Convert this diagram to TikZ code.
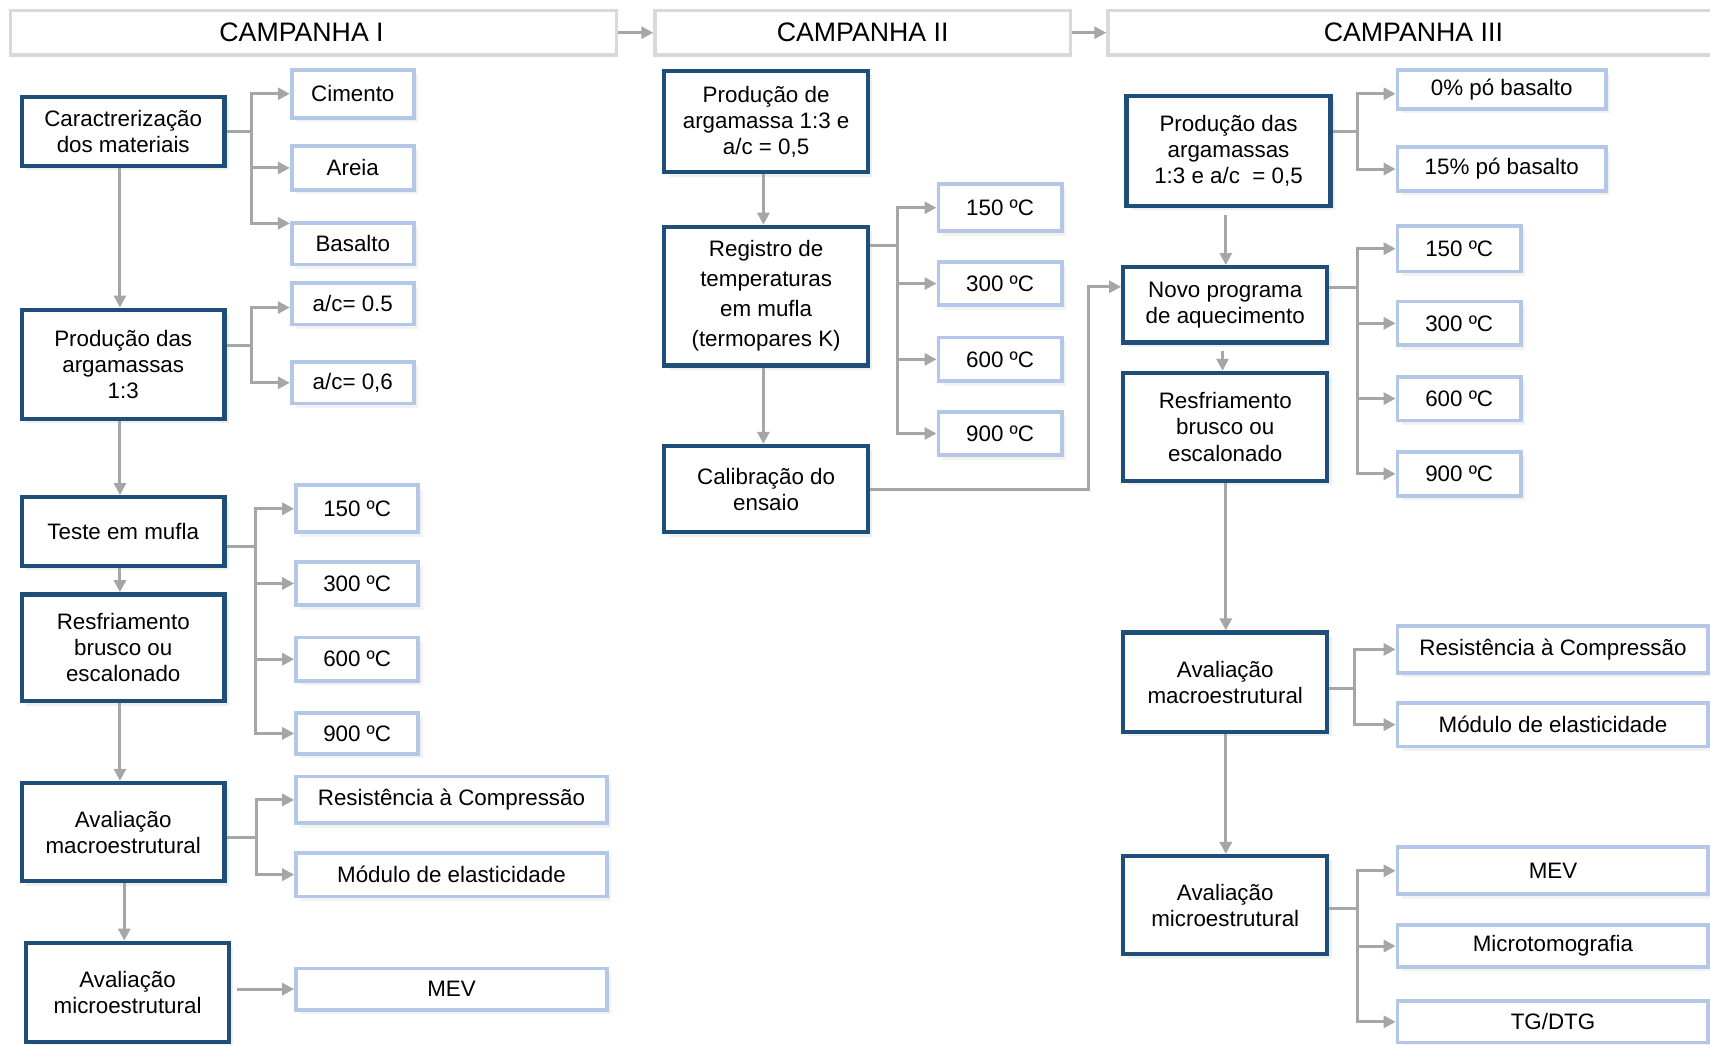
\documentclass[tikz,border=0pt]{standalone}
\usepackage{fontspec}
\setmainfont{Liberation Sans}
\usetikzlibrary{arrows.meta,calc,shadows}
\definecolor{dblue}{HTML}{1F4E79}
\definecolor{lblue}{HTML}{B4C7E7}
\definecolor{cgray}{HTML}{A6A6A6}
\definecolor{hgray}{HTML}{D9D9D9}
\newcommand\txtfnt{\fontsize{20.5}{24}\selectfont}
\newcommand\regfnt{\fontsize{20.5}{27.5}\selectfont}
\newcommand\hdrfnt{\fontsize{24.5}{28}\selectfont}
\begin{document}
\begin{tikzpicture}[x=1pt,y=-1pt,
  dark/.style={draw=dblue, line width=4pt, fill=white, align=center, inner sep=0pt,
    minimum width=186pt, font=\txtfnt,
    drop shadow={opacity=0.12, shadow xshift=4pt, shadow yshift=-4pt}},
  light/.style={draw=lblue, line width=3.5pt, fill=white, align=center, inner sep=0pt,
    minimum width=112pt, font=\txtfnt,
    drop shadow={opacity=0.10, shadow xshift=4pt, shadow yshift=-4pt}},
  hdr/.style={draw=hgray, line width=3pt, fill=white, inner sep=0pt, minimum height=41pt, font=\hdrfnt},
  conn/.style={draw=cgray, line width=2.7pt},
  arr/.style={conn, -{Triangle[length=11pt,width=11pt]}}
]
\useasboundingbox (0,0) rectangle (1568,958);
\fill[white] (0,0) rectangle (1568,958);
\clip (0,0) rectangle (1568,958);

% headers
\node[hdr, minimum width=556pt] (h1) at (287.5,30) {CAMPANHA I\hspace*{22pt}};
\node[hdr, minimum width=381pt] (h2) at (791,30) {CAMPANHA II};
\node[hdr, minimum width=560pt] (h3) at (1296,30) {CAMPANHA III};
\draw[arr] (h1.east) -- (h2.west);
\draw[arr] (h2.east) -- (h3.west);

% ---------- Campanha I ----------
\node[dark, minimum height=63pt] (car) at (113,120.5) {Caractrerização\\dos materiais};
\node[dark, minimum height=100pt] (prod1) at (113,334) {Produção das\\argamassas\\1:3};
\node[dark, minimum height=63pt] (teste) at (113,487.5) {Teste em mufla};
\node[dark, minimum height=98pt] (resf1) at (113,594) {Resfriamento\\brusco ou\\escalonado};
\node[dark, minimum height=90pt] (macro1) at (113,763) {Avaliação\\macroestrutural};
\node[dark, minimum height=91pt] (micro1) at (117,910) {Avaliação\\microestrutural};

\node[light, minimum height=44pt] (cim) at (323.5,86) {Cimento};
\node[light, minimum height=40pt] (are) at (323.5,154) {Areia};
\node[light, minimum height=38pt] (bas) at (323.5,223.5) {Basalto};
\node[light, minimum height=38pt] (ac5) at (323.5,278.5) {a/c= 0.5};
\node[light, minimum height=38pt] (ac6) at (323.5,351) {a/c= 0,6};
\node[light, minimum height=43pt] (ta1) at (327.5,466.5) {150 ºC};
\node[light, minimum height=40pt] (tb1) at (327.5,535) {300 ºC};
\node[light, minimum height=40pt] (tc1) at (327.5,604.5) {600 ºC};
\node[light, minimum height=38pt] (td1) at (327.5,672.5) {900 ºC};
\node[light, minimum width=285pt, minimum height=43pt] (rc1) at (414,733.5) {Resistência à Compressão};
\node[light, minimum width=285pt, minimum height=40pt] (me1) at (414,802) {Módulo de elasticidade};
\node[light, minimum width=285pt, minimum height=38pt] (mev1) at (414,907) {MEV};

\coordinate (j1) at ($(car.east)+(23,0)$);
\draw[conn] (car.east) -- (j1);
\draw[arr] (j1) |- (cim.west);
\draw[arr] (j1) |- (are.west);
\draw[arr] (j1) |- ($(bas.north west)+(0,2)$);

\coordinate (j2) at ($(prod1.east)+(23,-17)$);
\draw[conn] ($(prod1.east)+(0,-17)$) -- (j2);
\draw[arr] (j2) |- ($(ac5.west)+(0,3.5)$);
\draw[arr] (j2) |- (ac6.west);

\coordinate (j3) at ($(teste.east)+(26,13.5)$);
\draw[conn] ($(teste.east)+(0,13.5)$) -- (j3);
\draw[arr] (j3) |- (ta1.west);
\draw[arr] (j3) |- (tb1.west);
\draw[arr] (j3) |- (tc1.west);
\draw[arr] (j3) |- (td1.west);

\coordinate (j4) at ($(macro1.east)+(27,5)$);
\draw[conn] ($(macro1.east)+(0,5)$) -- (j4);
\draw[arr] (j4) |- (rc1.west);
\draw[arr] (j4) |- (me1.west);

\draw[arr] ($(mev1.west)+(-52,0)$) -- (mev1.west);

\draw[arr] ($(car.south)+(-3,0)$) -- ($(prod1.north)+(-3,0)$);
\draw[arr] ($(prod1.south)+(-3,0)$) -- ($(teste.north)+(-3,0)$);
\draw[arr] ($(teste.south)+(-3,0)$) -- ($(resf1.north)+(-3,0)$);
\draw[arr] ($(resf1.south)+(-3,0)$) -- ($(macro1.north)+(-3,0)$);
\draw[arr] ($(macro1.south)+(1,0)$) -- ($(micro1.north)+(-3,0)$);

% ---------- Campanha II ----------
\node[dark, minimum width=187pt, minimum height=93pt] (prod2) at (702.5,111.5) {Produção de\\argamassa 1:3 e\\a/c = 0,5};
\node[dark, minimum width=187pt, minimum height=127pt, font=\regfnt] (reg) at (702.5,271.5) {Registro de\\temperaturas\\em mufla\\(termopares K)};
\node[dark, minimum width=187pt, minimum height=79pt] (cal) at (702.5,448.5) {Calibração do\\ensaio};
\node[light, minimum width=113pt, minimum height=43pt] (ta2) at (917,190.5) {150 ºC};
\node[light, minimum width=113pt, minimum height=40pt] (tb2) at (917,260) {300 ºC};
\node[light, minimum width=113pt, minimum height=40pt] (tc2) at (917,329.5) {600 ºC};
\node[light, minimum width=113pt, minimum height=40pt] (td2) at (917,397.5) {900 ºC};

\draw[arr] ($(prod2.south)+(-2.5,0)$) -- ($(reg.north)+(-2.5,0)$);
\draw[arr] ($(reg.south)+(-2.5,0)$) -- ($(cal.north)+(-2.5,0)$);
\coordinate (j5) at ($(reg.east)+(25,-46.5)$);
\draw[conn] ($(reg.east)+(0,-46.5)$) -- (j5);
\draw[arr] (j5) |- (ta2.west);
\draw[arr] (j5) |- (tb2.west);
\draw[arr] (j5) |- (tc2.west);
\draw[arr] (j5) |- (td2.west);

% ---------- Campanha III ----------
\node[dark, minimum width=187pt, minimum height=101pt] (prod3) at (1126.5,138.5) {Produção das\\argamassas\\1:3 e a/c \ = 0,5};
\node[dark, minimum width=187pt, minimum height=69pt] (novo) at (1123.5,279.5) {Novo programa\\de aquecimento};
\node[dark, minimum width=187pt, minimum height=99pt] (resf3) at (1123.5,391.5) {Resfriamento\\brusco ou\\escalonado};
\node[dark, minimum width=187pt, minimum height=91pt] (macro3) at (1123.5,625.5) {Avaliação\\macroestrutural};
\node[dark, minimum width=187pt, minimum height=90pt] (micro3) at (1123.5,830) {Avaliação\\microestrutural};

\node[light, minimum width=191pt, minimum height=36pt] (p0) at (1377,82) {0\% pó basalto};
\node[light, minimum width=191pt, minimum height=40pt] (p15) at (1377,155) {15\% pó basalto};
\node[light, minimum width=113pt, minimum height=42pt] (ta3) at (1338,228) {150 ºC};
\node[light, minimum width=113pt, minimum height=40pt] (tb3) at (1338,296.5) {300 ºC};
\node[light, minimum width=113pt, minimum height=40pt] (tc3) at (1338,365.5) {600 ºC};
\node[light, minimum width=113pt, minimum height=40pt] (td3) at (1338,434.5) {900 ºC};
\node[light, minimum width=285pt, minimum height=43pt] (rc3) at (1424,595.5) {Resistência à Compressão};
\node[light, minimum width=285pt, minimum height=40pt] (me3) at (1424,664.5) {Módulo de elasticidade};
\node[light, minimum width=285pt, minimum height=43pt] (mev3) at (1424,798.5) {MEV};
\node[light, minimum width=285pt, minimum height=38pt] (mt3) at (1424,867.5) {Microtomografia};
\node[light, minimum width=285pt, minimum height=38pt] (tg3) at (1424,937) {TG/DTG};

\draw[arr] (cal.east) -- ($(cal.east)+(200,0)$) |- ($(novo.west)+(0,-16.5)$);

\coordinate (j6) at ($(prod3.east)+(23,-17.5)$);
\draw[conn] ($(prod3.east)+(0,-17.5)$) -- (j6);
\draw[arr] (j6) |- ($(p0.west)+(0,4)$);
\draw[arr] (j6) |- (p15.west);

\coordinate (j7) at ($(novo.east)+(26,-15.5)$);
\draw[conn] ($(novo.east)+(0,-15.5)$) -- (j7);
\draw[arr] (j7) |- (ta3.west);
\draw[arr] (j7) |- (tb3.west);
\draw[arr] (j7) |- (tc3.west);
\draw[arr] (j7) |- (td3.west);

\coordinate (j8) at ($(macro3.east)+(23,5.5)$);
\draw[conn] ($(macro3.east)+(0,5.5)$) -- (j8);
\draw[arr] (j8) |- (rc3.west);
\draw[arr] (j8) |- (me3.west);

\coordinate (j9) at ($(micro3.east)+(26,3)$);
\draw[conn] ($(micro3.east)+(0,3)$) -- (j9);
\draw[arr] (j9) |- (mev3.west);
\draw[arr] (j9) |- (mt3.west);
\draw[arr] (j9) |- (tg3.west);

\draw[arr] ($(prod3.south)+(-2.5,6)$) -- ($(novo.north)+(0.5,0)$);
\draw[arr] ($(novo.south)+(-2.5,6)$) -- ($(resf3.north)+(-2.5,0)$);
\draw[arr] ($(resf3.south)+(0.5,0)$) -- ($(macro3.north)+(0.5,0)$);
\draw[arr] ($(macro3.south)+(0.5,0)$) -- ($(micro3.north)+(0.5,0)$);
\end{tikzpicture}
\end{document}
